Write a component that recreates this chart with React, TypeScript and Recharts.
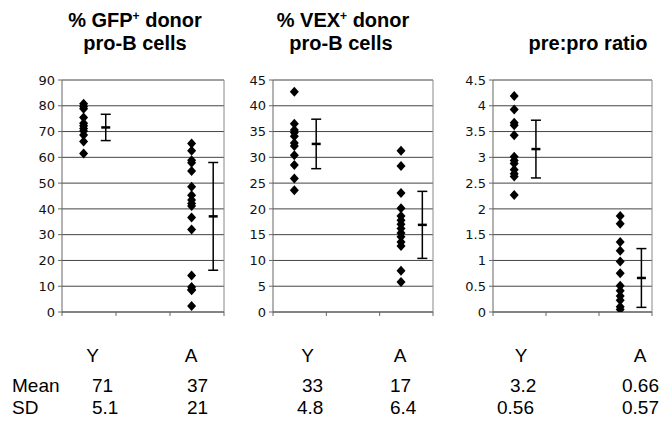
import React from 'react';
import { ScatterChart, Scatter, XAxis, YAxis, CartesianGrid, ErrorBar, ReferenceLine } from 'recharts';

// individual values
const gfpYoung = [80.8, 79.7, 78.8, 75.5, 73.2, 72.3, 71.2, 70.2, 68.7, 66.1, 61.5];
const gfpAged = [65.4, 62.6, 58.9, 57.9, 54.7, 48.6, 45.3, 43.4, 42.1, 41.1, 36.7, 32.0, 14.2, 9.7, 8.7, 8.4, 2.3];
const vexYoung = [42.7, 36.5, 35.3, 34.8, 34.1, 32.8, 32.2, 30.4, 28.5, 25.9, 23.6];
const vexAged = [31.3, 28.3, 23.1, 20.1, 18.6, 17.8, 17.0, 16.2, 15.3, 14.6, 13.6, 12.8, 8.0, 5.8];
const ratioYoung = [4.19, 3.93, 3.67, 3.62, 3.43, 3.01, 2.94, 2.88, 2.76, 2.68, 2.63, 2.27];
const ratioAged = [1.86, 1.71, 1.36, 1.19, 0.98, 0.75, 0.51, 0.41, 0.31, 0.23, 0.1, 0.05];

// mean / sd as drawn (young, aged)
const gfpMean = [71.6, 37.1];
const gfpSd = [5.1, 20.9];
const vexMean = [32.6, 16.9];
const vexSd = [4.8, 6.5];
const ratioMean = [3.16, 0.66];
const ratioSd = [0.56, 0.57];

const gfpTicks = [0, 10, 20, 30, 40, 50, 60, 70, 80, 90];
const vexTicks = [0, 5, 10, 15, 20, 25, 30, 35, 40, 45];
const ratioTicks = [0, 0.5, 1, 1.5, 2, 2.5, 3, 3.5, 4, 4.5];

// table under the charts
const groupLabels = ['Y', 'A', 'Y', 'A', 'Y', 'A'];
const meanLabels = ['71', '37', '33', '17', '3.2', '0.66'];
const sdLabels = ['5.1', '21', '4.8', '6.4', '0.56', '0.57'];

// x slots inside each plot: points a bit left, mean+sd a bit right of the group
const POINT_X = [0.4, 2.4];
const BAR_X = [0.81, 2.8];

const Diamond = (props: any) => {
  const { cx, cy } = props;
  if (cx == null || cy == null) return null;
  return <polygon points={`${cx},${cy - 5} ${cx + 4.5},${cy} ${cx},${cy + 5} ${cx - 4.5},${cy}`} fill="#000" />;
};

const MeanDash = (props: any) => {
  const { cx, cy } = props;
  if (cx == null || cy == null) return null;
  return <line x1={cx - 4.5} x2={cx + 4.5} y1={cy} y2={cy} stroke="#000" strokeWidth={2.5} />;
};

interface PanelProps {
  left: number;
  width: number;
  axisWidth: number;
  young: number[];
  aged: number[];
  mean: number[];
  sd: number[];
  ticks: number[];
}

const Panel: React.FC<PanelProps> = ({ left, width, axisWidth, young, aged, mean, sd, ticks }) => {
  const points = [
    ...young.map(v => ({ x: POINT_X[0], y: v })),
    ...aged.map(v => ({ x: POINT_X[1], y: v })),
  ];
  const bars = mean.map((m, i) => ({ x: BAR_X[i], y: m, sd: sd[i] }));
  const top = ticks[ticks.length - 1];

  return (
    <div style={{ position: 'absolute', left, top: 70 }}>
      <ScatterChart width={width} height={252} margin={{ top: 10, right: 5, bottom: 0, left: 0 }}>
        <CartesianGrid vertical={false} stroke="#444" strokeWidth={1} />
        <XAxis
          type="number"
          dataKey="x"
          domain={[0, 3]}
          ticks={[0, 1, 2, 3]}
          tickFormatter={() => ''}
          tickSize={4}
          height={10}
          stroke="#666"
          allowDataOverflow
        />
        <YAxis
          type="number"
          dataKey="y"
          domain={[0, top]}
          ticks={ticks}
          interval={0}
          width={axisWidth}
          tickSize={4}
          tickMargin={3}
          stroke="#666"
          tick={{ fill: '#111', fontSize: 13, fontFamily: 'DejaVu Sans' }}
          allowDataOverflow
        />
        <ReferenceLine x={3} stroke="#888" />
        <Scatter data={points} shape={Diamond} isAnimationActive={false} />
        <Scatter data={bars} shape={MeanDash} isAnimationActive={false}>
          <ErrorBar dataKey="sd" direction="y" width={5} stroke="#000" strokeWidth={1.5} />
        </Scatter>
      </ScatterChart>
    </div>
  );
};

const App: React.FC = () => {
  const titleFont = { fontFamily: 'Liberation Sans, Arial, sans-serif', fontWeight: 700, fontSize: 20 } as const;
  const tableFont = { fontFamily: 'Liberation Sans, Arial, sans-serif', fontSize: 19 } as const;

  const groupX = [92.5, 191, 307.5, 400, 521, 640];
  const meanX = [92, 187, 302, 390, 510, 622];
  const sdX = [92, 187, 297, 390, 497, 622];

  return (
    <div style={{ position: 'absolute', left: 0, top: 0, width: 661, height: 421, background: '#fff', overflow: 'hidden' }}>
      <Panel left={0} width={229} axisWidth={62} young={gfpYoung} aged={gfpAged} mean={gfpMean} sd={gfpSd} ticks={gfpTicks} />
      <Panel left={220} width={218} axisWidth={53} young={vexYoung} aged={vexAged} mean={vexMean} sd={vexSd} ticks={vexTicks} />
      <Panel left={440} width={217} axisWidth={53} young={ratioYoung} aged={ratioAged} mean={ratioMean} sd={ratioSd} ticks={ratioTicks} />

      <svg width={661} height={421} style={{ position: 'absolute', left: 0, top: 0, pointerEvents: 'none' }}>
        <g style={titleFont} fill="#000">
          <text x={135} y={27} textAnchor="middle">
            % GFP<tspan dy={-7} fontSize={12}>+</tspan><tspan dy={7}> donor</tspan>
          </text>
          <text x={135} y={50} textAnchor="middle">pro-B cells</text>
          <text x={343} y={27} textAnchor="middle">
            % VEX<tspan dy={-7} fontSize={12}>+</tspan><tspan dy={7}> donor</tspan>
          </text>
          <text x={341} y={50} textAnchor="middle">pro-B cells</text>
          <text x={588} y={50} textAnchor="middle">pre:pro ratio</text>
        </g>
        <g style={tableFont} fill="#000">
          {groupLabels.map((g, i) => (
            <text key={'g' + i} x={groupX[i]} y={362} textAnchor="middle">{g}</text>
          ))}
          <text x={12} y={392}>Mean</text>
          <text x={12} y={414}>SD</text>
          {meanLabels.map((m, i) => (
            <text key={'m' + i} x={meanX[i]} y={392}>{m}</text>
          ))}
          {sdLabels.map((s, i) => (
            <text key={'s' + i} x={sdX[i]} y={414}>{s}</text>
          ))}
        </g>
      </svg>
    </div>
  );
};

export default App;
